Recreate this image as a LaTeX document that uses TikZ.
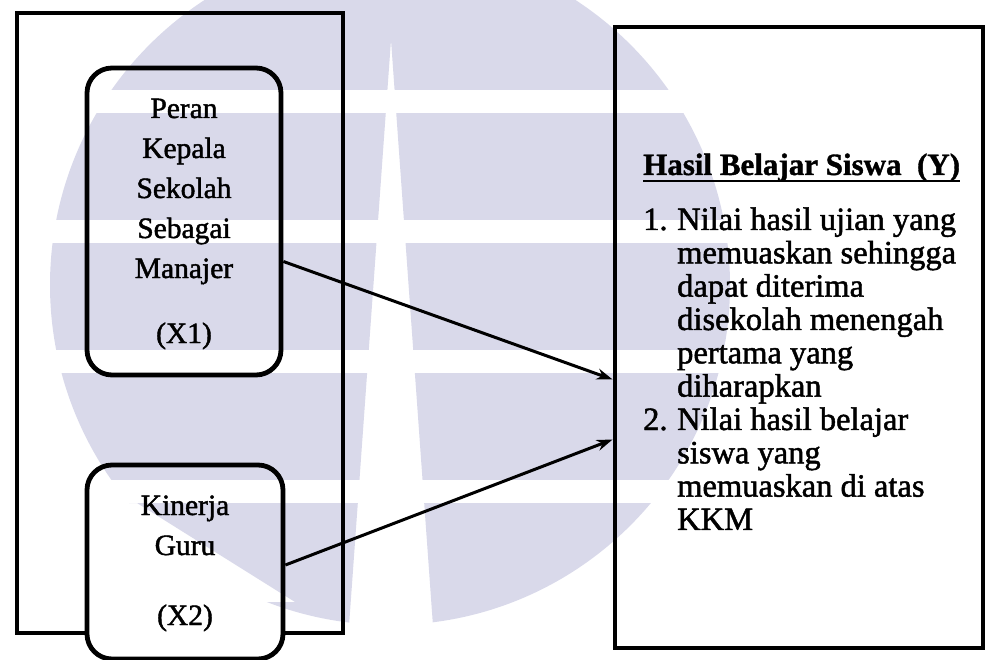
\documentclass[tikz,border=0pt]{standalone}
\usepackage{fontspec}
\setmainfont{Liberation Serif}
\newfontfamily\scanfont{Liberation Serif}[UprightFeatures={FakeBold=1.5}, BoldFeatures={FakeBold=1.2}]
\usepackage{tikz}
\usetikzlibrary{arrows.meta,calc}
\definecolor{logo}{RGB}{217,217,234}

\begin{document}
\begin{tikzpicture}[x=1pt,y=-1pt,
  frame/.style={draw, line width=4.8pt, inner sep=0pt},
  var/.style={frame, rounded corners=25pt, fill=white},
  lbl/.style={font=\scanfont\fontsize{29.5}{36}\selectfont, inner sep=0pt, anchor=base},
  item/.style={font=\scanfont\fontsize{32.5}{36}\selectfont, inner sep=0pt, anchor=base west},
  arrow/.style={line width=3pt, -{Stealth[length=16pt,width=11pt]}}]
\useasboundingbox (0,0) rectangle (987,660);

\node[frame, minimum width=326pt, minimum height=620pt] (left) at (180,323) {};
\node[frame, minimum width=368pt, minimum height=621pt] (right) at (799,337.5) {};
\node[var, minimum width=194pt, minimum height=307pt] (box1) at (184,221.5) {};
\node[var, minimum width=196pt, minimum height=194pt] (box2) at (185,562) {};

% variables
\foreach \t [count=\i from 0] in {Peran, Kepala, Sekolah, Sebagai, Manajer}
  \node[lbl] (xa\i) at (184,{118+40*\i}) {\t};
\node[lbl] (xa) at (184,343) {(X1)};
\node[lbl] (xb0) at (185,515) {Kinerja};
\node[lbl] (xb1) at (185,555) {Guru};
\node[lbl] (xb) at (185,625) {(X2)};

% outcome
\node[font=\scanfont\bfseries\fontsize{31}{36}\selectfont, inner sep=0pt, anchor=base west] (ytitle) at (643,175) {Hasil Belajar Siswa\ \ (Y)};
\draw[line width=1.8pt] ($(ytitle.base west)+(0,6)$) -- ($(ytitle.base east)+(0,6)$);
\node[item] (n1) at (643,230) {1.};
\node[item] (n2) at (643,430) {2.};
\foreach \t [count=\i from 0] in {Nilai hasil ujian yang, memuaskan sehingga, dapat diterima, disekolah menengah, pertama yang, diharapkan, Nilai hasil belajar, siswa  yang, memuaskan di atas, KKM}
  \node[item] (y\i) at (677,{230+33.33*\i}) {\t};

\draw[arrow] ($(box1.east)+(0,40)$) -- ($(right.west)+(0,42)$);
\draw[arrow] ($(box2.east)+(0,3)$) -- ($(right.west)+(0,102)$);

% watermark
\begin{scope}[blend mode=multiply]
\clip (390,285) circle (340);
\begin{scope}[even odd rule]
\clip (0,-80) rectangle (987,700) (391,40) -- (348,640) -- (434,640) -- cycle;
\clip (0,-80) rectangle (987,700) (0,503) -- (137,503) -- (295,602) -- (0,602) -- cycle;
\foreach \a/\b in {-80/90, 113/220, 243/350, 373/480, 503/700}
  \fill[logo] (0,\a) rectangle (987,\b);
\end{scope}
\end{scope}
\end{tikzpicture}
\end{document}
